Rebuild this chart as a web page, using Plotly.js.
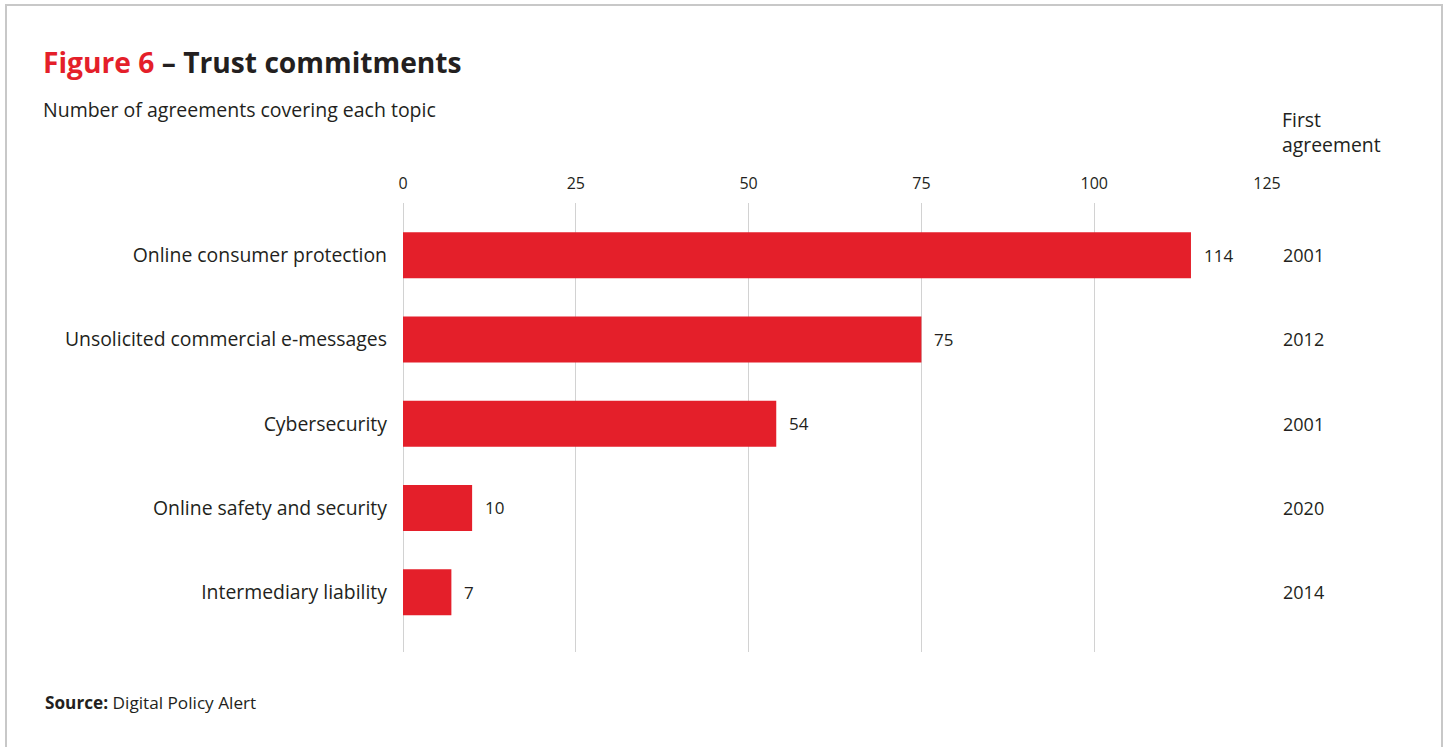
<!DOCTYPE html>
<html>
<head>
<meta charset="utf-8">
<script src="https://cdn.plot.ly/plotly-3.0.1.min.js"></script>
<style>
  html, body { margin: 0; padding: 0; background: #ffffff; }
  #chart { width: 1450px; height: 747px; }
</style>
</head>
<body>
<div id="chart"></div>
<script>
// ---- data ----
const topics = [
  "Online consumer protection",
  "Unsolicited commercial e-messages",
  "Cybersecurity",
  "Online safety and security",
  "Intermediary liability"
];
const agreements = [114, 75, 54, 10, 7];
const firstAgreement = ["2001", "2012", "2001", "2020", "2014"];
const xTicks = [0, 25, 50, 75, 100, 125];

// ---- styles ----
const RED = "#e41f2a";
const TEXT = "#231f20";
const GRID = "#d2d2d2";
const FONT = "Open Sans, Noto Sans, sans-serif";

// plot-area pixel geometry (for paper-coordinate conversions of decorations)
const W = 1450, H = 747;
const L = 403, R = 1267, T = 203, B = 652;
const px = x => (x - L) / (R - L);
const py = y => (B - y) / (B - T);

const trace = {
  type: "bar",
  orientation: "h",
  y: topics,
  x: agreements,
  marker: { color: RED, line: { width: 0 } },
  hoverinfo: "x+y"
};

const annotations = [];
// value labels and first-agreement years
topics.forEach((t, i) => {
  annotations.push({
    x: agreements[i], y: t, xref: "x", yref: "y",
    text: String(agreements[i]),
    showarrow: false, xanchor: "left", yanchor: "middle",
    xshift: 11,
    font: { family: FONT, size: 17, color: TEXT }
  });
  annotations.push({
    x: px(1281), y: t, xref: "paper", yref: "y",
    text: firstAgreement[i],
    showarrow: false, xanchor: "left", yanchor: "middle",
    font: { family: FONT, size: 18, color: TEXT }
  });
});
// column header
annotations.push({
  x: px(1280), y: py(132), xref: "paper", yref: "paper",
  text: "First<br>agreement", align: "left",
  showarrow: false, xanchor: "left", yanchor: "middle",
  font: { family: FONT, size: 19.4, color: TEXT }
});
// subtitle
annotations.push({
  x: px(41), y: py(110), xref: "paper", yref: "paper",
  text: "Number of agreements covering each topic",
  showarrow: false, xanchor: "left", yanchor: "middle",
  font: { family: FONT, size: 19.5, color: TEXT }
});
// source
annotations.push({
  x: px(43), y: py(702), xref: "paper", yref: "paper",
  text: "<b>Source:</b> Digital Policy Alert",
  showarrow: false, xanchor: "left", yanchor: "middle",
  font: { family: FONT, size: 17.2, color: TEXT }
});

const layout = {
  width: W, height: H,
  margin: { l: L, r: W - R, t: T, b: H - B, pad: 0 },
  paper_bgcolor: "#ffffff",
  plot_bgcolor: "#ffffff",
  showlegend: false,
  bargap: 0.454,
  title: {
    text: "<span style='color:" + RED + "'>Figure 6</span> – Trust commitments",
    x: 43 / W, xanchor: "left", xref: "container",
    y: 1 - 63 / H, yanchor: "middle", yref: "container",
    font: { family: FONT, size: 28.2, color: TEXT, weight: 700 }
  },
  xaxis: {
    side: "top",
    range: [0, 125],
    tickvals: xTicks,
    ticktext: xTicks.map(String),
    showgrid: true, gridcolor: GRID, gridwidth: 1,
    zeroline: true, zerolinecolor: GRID, zerolinewidth: 1,
    showline: false, ticks: "",
    ticklabelstandoff: 10,
    tickfont: { family: FONT, size: 16, color: TEXT },
    fixedrange: true
  },
  yaxis: {
    type: "category",
    categoryorder: "array",
    categoryarray: topics,
    range: [4.71, -0.62],
    showgrid: false, zeroline: false, showline: false, ticks: "",
    ticklabelstandoff: 15,
    tickfont: { family: FONT, size: 19.4, color: TEXT },
    fixedrange: true
  },
  annotations: annotations,
  shapes: [{
    type: "rect", xref: "paper", yref: "paper", layer: "below",
    x0: px(6), x1: px(1442), y0: py(5), y1: py(760),
    line: { color: "#c8c8c8", width: 2 }, fillcolor: "rgba(0,0,0,0)"
  }]
};

Plotly.newPlot("chart", [trace], layout, { displayModeBar: false, staticPlot: true });
</script>
</body>
</html>
